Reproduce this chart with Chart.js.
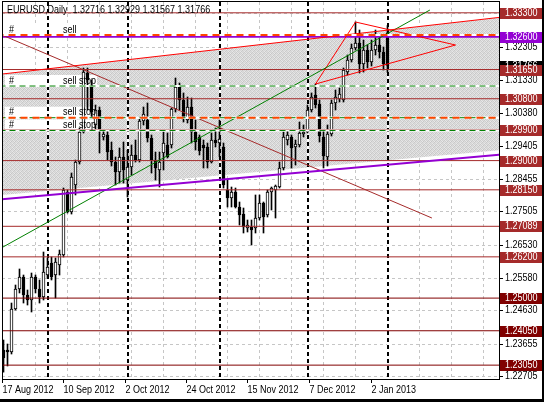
<!DOCTYPE html>
<html>
<head>
<meta charset="utf-8">
<script src="https://cdn.jsdelivr.net/npm/chart.js@4.4.1/dist/chart.umd.min.js"></script>
<style>
  html, body { margin: 0; padding: 0; background: #000; }
  #wrap { width: 542px; height: 399px; background: #fff; }
</style>
</head>
<body>
<div id="wrap"><canvas id="chart" width="542" height="399"></canvas></div>
<script>
// EURUSD daily, 17 Aug 2012 .. 2 Jan 2013
const opens = [
  1.23490, 1.23490, 1.23432, 1.24683, 1.25265, 1.25614, 1.25090, 1.24945, 1.25614, 1.25265,
  1.25032, 1.25672, 1.26021, 1.25672, 1.25963, 1.26254, 1.28087, 1.27505, 1.28290, 1.28959,
  1.29832, 1.31548, 1.31170, 1.30036, 1.30472, 1.29687, 1.29745, 1.29308, 1.28959, 1.28668,
  1.29105, 1.28436, 1.28814, 1.29163, 1.29017, 1.30152, 1.30181, 1.29658, 1.29017, 1.28727,
  1.29221, 1.29454, 1.29454, 1.30501, 1.31141, 1.30763, 1.30181, 1.30559, 1.29832, 1.29687,
  1.29454, 1.29396, 1.28959, 1.29599, 1.29512, 1.29396, 1.28145, 1.27912, 1.28087, 1.27650,
  1.27446, 1.27039, 1.27069, 1.27039, 1.27330, 1.27767, 1.27417, 1.28087, 1.28145, 1.28232,
  1.28785, 1.29599, 1.29687, 1.29396, 1.29454, 1.29774, 1.29832, 1.30472, 1.30908, 1.30647,
  1.29687, 1.29105, 1.29774, 1.30676, 1.30792, 1.30763, 1.31577, 1.31927, 1.32276, 1.32421,
  1.31810, 1.32217, 1.31868, 1.32217, 1.32363, 1.32159, 1.32716
];
const highs = [
  1.23781, 1.23665, 1.24857, 1.25381, 1.25847, 1.25672, 1.25236, 1.25730, 1.25672, 1.25527,
  1.26341, 1.26167, 1.26196, 1.26167, 1.26399, 1.28203, 1.28145, 1.28639, 1.29017, 1.29948,
  1.31694, 1.31694, 1.31345, 1.30617, 1.30559, 1.29890, 1.29890, 1.29541, 1.29105, 1.29367,
  1.29541, 1.29308, 1.29454, 1.29599, 1.30268, 1.30559, 1.30676, 1.29745, 1.29250, 1.29250,
  1.29832, 1.29803, 1.30530, 1.31403, 1.31257, 1.30967, 1.30850, 1.30821, 1.30181, 1.29745,
  1.29599, 1.29512, 1.29803, 1.29948, 1.30181, 1.29512, 1.28436, 1.28232, 1.28203, 1.27796,
  1.27621, 1.27272, 1.27272, 1.28000, 1.28000, 1.27796, 1.28145, 1.28232, 1.28290, 1.28959,
  1.29832, 1.29890, 1.29745, 1.29599, 1.30123, 1.30036, 1.30617, 1.30967, 1.31228, 1.30763,
  1.29890, 1.30036, 1.30763, 1.31054, 1.31112, 1.31694, 1.32072, 1.32392, 1.33032, 1.32799,
  1.32508, 1.32363, 1.32508, 1.32799, 1.32654, 1.32305, 1.32929
];
const lows = [
  1.22847, 1.23025, 1.23374, 1.24654, 1.25149, 1.24857, 1.24799, 1.24596, 1.25149, 1.24857,
  1.24945, 1.25585, 1.25527, 1.25003, 1.25672, 1.26196, 1.27476, 1.27446, 1.28000, 1.28901,
  1.29803, 1.30472, 1.30239, 1.29890, 1.29221, 1.29599, 1.29017, 1.28843, 1.28290, 1.28348,
  1.28348, 1.27941, 1.28581, 1.28959, 1.28959, 1.30036, 1.29541, 1.28639, 1.28436, 1.28232,
  1.28727, 1.29076, 1.29367, 1.30414, 1.30472, 1.30123, 1.30094, 1.29512, 1.29308, 1.29163,
  1.28785, 1.28785, 1.28930, 1.29396, 1.29105, 1.28203, 1.27650, 1.27650, 1.27621, 1.27127,
  1.26894, 1.26923, 1.26545, 1.26894, 1.27272, 1.26894, 1.27359, 1.27563, 1.27330, 1.28203,
  1.28727, 1.29454, 1.28785, 1.28872, 1.29396, 1.29687, 1.29803, 1.30414, 1.30530, 1.29541,
  1.28785, 1.28843, 1.29716, 1.30472, 1.30705, 1.30705, 1.31490, 1.31868, 1.32217, 1.31548,
  1.31577, 1.31694, 1.31752, 1.32072, 1.31985, 1.31636, 1.31567
];
const closes = [
  1.23258, 1.23432, 1.24683, 1.25265, 1.25614, 1.25090, 1.24945, 1.25614, 1.25265, 1.25032,
  1.25759, 1.25905, 1.25614, 1.26050, 1.26283, 1.28145, 1.27505, 1.28523, 1.28959, 1.29832,
  1.31577, 1.31345, 1.30414, 1.30472, 1.29890, 1.29774, 1.29250, 1.28959, 1.28668, 1.29105,
  1.28727, 1.28814, 1.29163, 1.29017, 1.30152, 1.30355, 1.29658, 1.29017, 1.28785, 1.28959,
  1.29512, 1.29105, 1.30501, 1.31141, 1.30763, 1.30239, 1.30559, 1.29832, 1.29541, 1.29279,
  1.29367, 1.28959, 1.29599, 1.29512, 1.29629, 1.28290, 1.27912, 1.28087, 1.27650, 1.27417,
  1.27069, 1.27127, 1.26981, 1.27330, 1.27767, 1.27359, 1.28087, 1.28203, 1.28261, 1.28785,
  1.29687, 1.29745, 1.29367, 1.29483, 1.29803, 1.29832, 1.30472, 1.30850, 1.30617, 1.29716,
  1.29134, 1.29774, 1.30676, 1.30850, 1.30937, 1.31636, 1.31927, 1.32276, 1.32421, 1.31810,
  1.32217, 1.31868, 1.32217, 1.32363, 1.32159, 1.31810, 1.31766
];

// time axis
const dateLabels = ['17 Aug 2012', '10 Sep 2012', '2 Oct 2012', '24 Oct 2012', '15 Nov 2012', '7 Dec 2012', '2 Jan 2013'];
const dateTickBars = [-0.2, 15.1, 30.4, 45.8, 61.1, 76.6, 92.1];
const monthStartBars = [11, 31, 54, 76, 96];

// price axis
const priceTicks = [1.33280, 1.32305, 1.31330, 1.30380, 1.29405, 1.28455, 1.27505, 1.26530, 1.25580, 1.24630, 1.23655, 1.22705];

// horizontal levels
const brownLevels = [1.33300, 1.31650, 1.30800, 1.29900, 1.29000, 1.28150, 1.27089, 1.26200];
const maroonLevels = [1.25000, 1.24050, 1.23050];
const purpleLevel = 1.32600;
const stopLevels = [1.32655, 1.30248];            // orange-red dashed
const orderLevels = [1.31170, 1.30248, 1.29876];  // green dashed
const orderTexts = [
  { price: 1.32655, text: 'sell' },
  { price: 1.31170, text: 'sell stop' },
  { price: 1.30248, text: 'sell stop' },
  { price: 1.29876, text: 'sell stop' }
];

// trend lines as [bar, price] pairs
const channelTop = [[-1, 1.31510], [125, 1.33180]];
const channelBottom = [[-1, 1.27870], [125, 1.29180]];
const shadeBottom = [[-1, 1.27990], [125, 1.29310]];
const greenTrend = [[-1, 1.26430], [106.6, 1.33381]];
const brownTrend = [[-0.1, 1.32640], [107.1, 1.27330]];
const triangle = [[78, 1.31228], [88, 1.33032], [113, 1.32363], [78, 1.31228]];

const xMin = -0.375, xMax = 123.875;
const yMin = 1.226468, yMax = 1.336141;
const FONT = '10px "Liberation Sans", Arial, sans-serif';
const NARROW = 0.9;

const pts = arr => arr.map(p => ({ x: p[0], y: p[1] }));
const hline = v => [{ x: -1, y: v }, { x: 125, y: v }];

// terminal font is narrower than anything installed: squeeze it a bit
function label(ctx, text, x, y) {
  ctx.save();
  ctx.translate(x, y);
  ctx.scale(NARROW, 1);
  ctx.fillText(text, 0, 0);
  ctx.restore();
}

function shadePattern() {
  const c = document.createElement('canvas');
  c.width = 4; c.height = 4;
  const g = c.getContext('2d');
  const shades = [
    ['#cacaca', '#e6e6e6', '#d2d2d2', '#dedede'],
    ['#dedede', '#cecece', '#eaeaea', '#c6c6c6'],
    ['#d6d6d6', '#e2e2e2', '#c8c8c8', '#e0e0e0'],
    ['#e8e8e8', '#cacaca', '#dcdcdc', '#d4d4d4']
  ];
  shades.forEach((row, r) => row.forEach((col, k) => { g.fillStyle = col; g.fillRect(k, r, 1, 1); }));
  return g.createPattern(c, 'repeat');
}

function lineSet(data, color, width, order, dash) {
  return {
    type: 'line', data: data, borderColor: color, borderWidth: width,
    borderDash: dash || [], pointRadius: 0, fill: false, order: order, tension: 0
  };
}

const datasets = [];
// shaded channel
datasets.push({ type: 'line', data: pts(channelTop), borderColor: 'rgba(0,0,0,0)', borderWidth: 0,
  pointRadius: 0, fill: '+1', backgroundColor: shadePattern(), order: 50 });
datasets.push({ type: 'line', data: pts(shadeBottom), borderColor: 'rgba(0,0,0,0)', borderWidth: 0,
  pointRadius: 0, fill: false, order: 51 });
// candles
datasets.push({
  type: 'bar', data: opens.map((o, i) => ({ x: i, y: [lows[i], highs[i]] })),
  backgroundColor: '#000', barThickness: 1, grouped: false, order: 21, minBarLength: 1
});
datasets.push({
  type: 'bar', data: opens.map((o, i) => ({ x: i, y: [o, closes[i]] })),
  backgroundColor: opens.map((o, i) => closes[i] >= o ? '#fff' : '#000'),
  borderColor: '#000', borderWidth: 1, borderSkipped: false,
  barThickness: 3, grouped: false, order: 20, minBarLength: 1
});
// levels
brownLevels.forEach(v => datasets.push(lineSet(hline(v), '#a52a2a', 1, 10)));
maroonLevels.forEach(v => datasets.push(lineSet(hline(v), '#800000', 1, 10)));
datasets.push(lineSet(hline(purpleLevel), '#9400d3', 2, 9));
// trend lines
datasets.push(lineSet(pts(channelTop), '#ff0000', 1, 8));
datasets.push(lineSet(pts(channelBottom), '#9400d3', 2, 8));
datasets.push(lineSet(pts(greenTrend), '#008000', 1, 8));
datasets.push(lineSet(pts(brownTrend), '#a52a2a', 1, 8));
datasets.push(lineSet(pts(triangle), '#ff0000', 1, 8));
// order / stop lines (white under the dashes, like the terminal draws them)
orderLevels.concat(stopLevels).forEach(v => datasets.push(lineSet(hline(v), '#fff', 2, 5)));
orderLevels.forEach(v => datasets.push(lineSet(hline(v), '#008000', 1, 3, [6, 4])));
stopLevels.forEach(v => {
  const d = lineSet(hline(v), '#ff4500', 2, 2, [7, 5]);
  d.borderDashOffset = 3;
  datasets.push(d);
});

const mtPlugin = {
  id: 'mt',
  beforeDraw(chart) {
    const { ctx, chartArea: a, scales: { x, y } } = chart;
    ctx.save();
    ctx.fillStyle = '#fff';
    ctx.fillRect(0, 0, chart.width, chart.height);
    ctx.strokeStyle = '#c6c6c6';
    ctx.lineWidth = 1;
    ctx.setLineDash([3, 3]);
    priceTicks.forEach(v => {
      const py = Math.floor(y.getPixelForValue(v)) + 0.5;
      ctx.beginPath(); ctx.moveTo(a.left, py); ctx.lineTo(a.right, py); ctx.stroke();
    });
    for (let b = 8; b < xMax; b += 8) {
      const px = Math.floor(x.getPixelForValue(b)) + 0.5;
      ctx.beginPath(); ctx.moveTo(px, a.top); ctx.lineTo(px, a.bottom); ctx.stroke();
    }
    ctx.restore();
  },
  beforeDatasetsDraw(chart) {
    const { ctx, chartArea: a, scales: { x, y } } = chart;
    ctx.save();
    ctx.beginPath(); ctx.rect(a.left, a.top, a.right - a.left, a.bottom - a.top); ctx.clip();
    // label strips
    ctx.fillStyle = '#fff';
    orderTexts.forEach(t => {
      const py = y.getPixelForValue(t.price);
      ctx.fillRect(a.left + 3, py - 11, 92, 11);
    });
    // month separators
    monthStartBars.forEach(b => {
      const px = Math.round(x.getPixelForValue(b));
      ctx.setLineDash([]);
      ctx.strokeStyle = '#fff'; ctx.lineWidth = 2;
      ctx.beginPath(); ctx.moveTo(px, a.top); ctx.lineTo(px, a.bottom); ctx.stroke();
      ctx.setLineDash([4, 3]);
      ctx.strokeStyle = '#000';
      ctx.beginPath(); ctx.moveTo(px, a.top); ctx.lineTo(px, a.bottom); ctx.stroke();
    });
    ctx.restore();
  },
  afterDraw(chart) {
    const { ctx, chartArea: a, scales: { x, y } } = chart;
    const last = opens.length - 1;
    ctx.save();
    ctx.font = FONT;
    ctx.textBaseline = 'middle';
    ctx.textAlign = 'left';

    // order texts
    ctx.fillStyle = '#000';
    orderTexts.forEach(t => {
      const py = y.getPixelForValue(t.price) - 5;
      label(ctx, '#', a.left + 7, py);
      label(ctx, t.text, a.left + 61, py);
    });

    // title
    label(ctx, 'EURUSD,Daily  ' + [opens[last], highs[last], lows[last], closes[last]].map(v => v.toFixed(5)).join(' '),
      a.left + 5, 10);

    // frame
    ctx.strokeStyle = '#000';
    ctx.lineWidth = 1;
    ctx.setLineDash([]);
    ctx.strokeRect(a.left + 0.5, a.top - 0.5, a.right - a.left, a.bottom - a.top + 1);

    // price scale
    priceTicks.forEach(v => {
      const py = Math.floor(y.getPixelForValue(v)) + 0.5;
      ctx.beginPath(); ctx.moveTo(a.right, py); ctx.lineTo(a.right + 4, py); ctx.stroke();
      ctx.fillStyle = '#000';
      label(ctx, v.toFixed(5), a.right + 6, py);
    });
    const box = (v, bg) => {
      const py = y.getPixelForValue(v);
      ctx.fillStyle = bg;
      ctx.fillRect(a.right + 1, Math.round(py) - 5, chart.width - a.right - 1, 11);
      ctx.fillStyle = '#fff';
      label(ctx, v.toFixed(5), a.right + 6, Math.round(py) + 0.5);
    };
    box(closes[last], '#000');
    brownLevels.forEach(v => box(v, '#a52a2a'));
    maroonLevels.forEach(v => box(v, '#800000'));
    box(purpleLevel, '#9400d3');

    // time scale
    ctx.fillStyle = '#000';
    dateTickBars.forEach((b, i) => {
      const px = Math.floor(x.getPixelForValue(b)) + 0.5;
      ctx.beginPath(); ctx.moveTo(px, a.bottom); ctx.lineTo(px, a.bottom + 4); ctx.stroke();
      label(ctx, dateLabels[i], px, a.bottom + 11);
    });
    ctx.restore();
  }
};

new Chart(document.getElementById('chart'), {
  type: 'bar',
  data: { datasets: datasets },
  options: {
    responsive: false,
    animation: false,
    devicePixelRatio: 1,
    layout: { padding: { left: 2, top: 2, right: 43, bottom: 20 } },
    scales: {
      x: { type: 'linear', min: xMin, max: xMax, offset: false, display: false },
      y: { type: 'linear', min: yMin, max: yMax, display: false }
    },
    plugins: {
      legend: { display: false },
      tooltip: { enabled: false },
      filler: { drawTime: 'beforeDatasetsDraw' }
    }
  },
  plugins: [mtPlugin]
});
</script>
</body>
</html>
